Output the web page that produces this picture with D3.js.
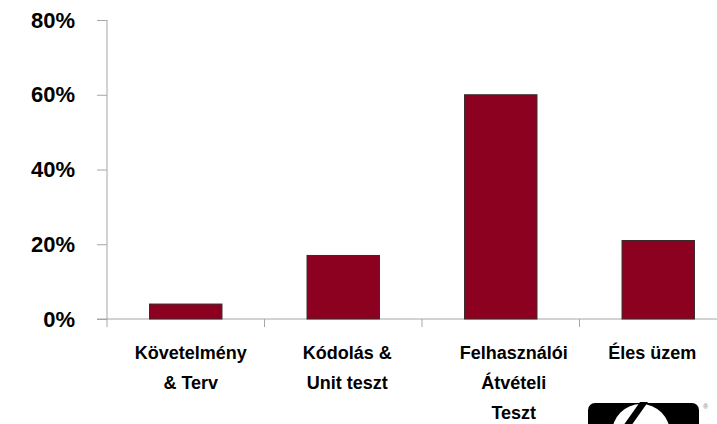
<!DOCTYPE html>
<html><head><meta charset="utf-8">
<script src="https://cdn.jsdelivr.net/npm/d3@7"></script>
<style>body{margin:0;background:#fff}svg{display:block}text{font-family:"Liberation Sans",Arial,sans-serif;font-weight:bold;fill:#000}</style>
</head><body><svg id="c" width="717" height="424"></svg>
<script>
const categories = [["Követelmény","& Terv"],["Kódolás &","Unit teszt"],["Felhasználói","Átvételi","Teszt"],["Éles üzem"]];
const values = [4, 17, 60, 21];
const yTicks = [0, 20, 40, 60, 80];

const svg = d3.select("#c");
const x0 = 107, x1 = 737, yTop = 20, yBot = 319;
const x = d3.scaleBand().domain(d3.range(categories.length)).range([x0, x1]).paddingInner(0.54).paddingOuter(0.27);
const xb = d3.scaleBand().domain(d3.range(categories.length)).range([x0, x1]);
const y = d3.scaleLinear().domain([0, 80]).range([yBot, yTop]);

// y axis
const yAx = svg.append("g").attr("transform", `translate(${x0},0)`)
  .call(d3.axisLeft(y).tickValues(yTicks).tickSize(10).tickFormat(d => d + "%"));
yAx.select(".domain").attr("stroke", "#a6a6a6").attr("d", `M0,${yTop}V${yBot}`);
yAx.selectAll(".tick line").attr("stroke", "#a6a6a6");
yAx.selectAll(".tick text").attr("x", -32).attr("font-size", 22).attr("font-family", '"Liberation Sans",Arial,sans-serif').attr("font-weight", "bold").attr("fill", "#000");

// x axis line
svg.append("line").attr("x1", 97).attr("x2", 717).attr("y1", yBot).attr("y2", yBot).attr("stroke", "#a6a6a6");
svg.selectAll(".xt").data(d3.range(categories.length)).enter().append("line")
  .attr("x1", d => xb(d)).attr("x2", d => xb(d)).attr("y1", yBot).attr("y2", yBot + 8).attr("stroke", "#a6a6a6");

// bars
svg.selectAll(".bar").data(values).enter().append("rect")
  .attr("x", (d, i) => x(i)).attr("width", x.bandwidth())
  .attr("y", d => y(d)).attr("height", d => yBot - y(d))
  .attr("fill", "#8c0020").attr("stroke", "#3a2a2a").attr("stroke-width", 1);

// category labels
const labelDx = [5, 4, 13, -6];
categories.forEach((lines, i) => {
  const t = svg.append("text").attr("text-anchor", "middle").attr("font-size", 18)
    .attr("x", xb(i) + xb.bandwidth() / 2 + labelDx[i]);
  lines.forEach((s, j) => t.append("tspan").attr("x", xb(i) + xb.bandwidth() / 2 + labelDx[i]).attr("y", 359 + j * 30).text(s));
});

// HP logo (partially visible)
const g = svg.append("g");
g.append("rect").attr("x", 588).attr("y", 403).attr("width", 111).attr("height", 60).attr("rx", 7).attr("fill", "#000");
g.append("circle").attr("cx", 641).attr("cy", 433).attr("r", 29).attr("fill", "#fff");
g.append("path").attr("d", "M623,426 L631,426 L648,402 L640,402 Z").attr("fill", "#000");
g.append("text").attr("x", 703).attr("y", 409).attr("font-size", 7).attr("font-weight", "normal").style("fill", "#999").text("®");
</script></body></html>
